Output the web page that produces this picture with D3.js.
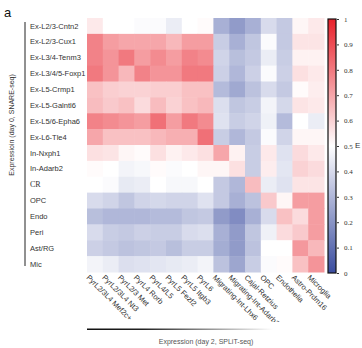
<!DOCTYPE html>
<meta charset="utf-8">
<style>
  body { margin: 0; background: #fff; }
  .row-label, .col-label, .axis-title { font-family: "Liberation Sans", Arial, sans-serif; }
  .serif { font-family: "Liberation Serif", "Times New Roman", serif; }
  .cbar .domain { display: none; }
  .cbar text { font-family: "Liberation Serif", serif; font-size: 7px; fill: #333; }
  .cbar line { stroke: #333; }
</style>
<body>
<script src="https://cdn.jsdelivr.net/npm/d3@7"></script>
<script>

// rows: SNARE-seq day 0 clusters
var rowLabels = ["Ex-L2/3-Cntn2", "Ex-L2/3-Cux1", "Ex-L3/4-Tenm3", "Ex-L3/4/5-Foxp1",
                 "Ex-L5-Crmp1", "Ex-L5-Galntl6", "Ex-L5/6-Epha6", "Ex-L6-Tle4",
                 "In-Nxph1", "In-Adarb2", "CR", "OPC", "Endo", "Peri", "Ast/RG", "Mic"];

// columns: SPLiT-seq day 2 clusters
var colLabels = ["PyrL2/3L4 Mef2c+", "PyrL2/3L4 Nt3", "PyrL2/3 Met", "PyrL4 Rorb", "PyrL4/L5",
                 "PyrL5 Fezf2", "PyrL5 Itgb3", "PyrL6", "Migrating-Int-Lhx6", "Migrating-Int-Adarb2",
                 "Cajal-Retzius", "OPC", "Endothelia", "Astro-Prdm16", "Microglia"];

// correlation values, one row per SNARE-seq cluster
var values = [
  [0.55,0.50,0.50,0.49,0.49,0.45,0.50,0.51,0.28,0.22,0.28,0.40,0.35,0.52,0.55],
  [0.78,0.72,0.70,0.70,0.70,0.66,0.72,0.72,0.36,0.28,0.34,0.49,0.35,0.56,0.56],
  [0.78,0.74,0.80,0.72,0.76,0.72,0.78,0.76,0.38,0.32,0.35,0.45,0.36,0.53,0.53],
  [0.80,0.74,0.66,0.78,0.74,0.74,0.80,0.80,0.37,0.30,0.37,0.49,0.37,0.57,0.55],
  [0.64,0.61,0.60,0.60,0.61,0.61,0.64,0.64,0.31,0.26,0.33,0.40,0.35,0.51,0.54],
  [0.65,0.62,0.64,0.58,0.65,0.60,0.64,0.66,0.41,0.34,0.36,0.47,0.39,0.56,0.55],
  [0.78,0.76,0.74,0.72,0.82,0.72,0.80,0.76,0.42,0.36,0.38,0.46,0.31,0.50,0.45],
  [0.70,0.64,0.64,0.64,0.66,0.68,0.68,0.82,0.36,0.30,0.35,0.49,0.38,0.52,0.52],
  [0.57,0.56,0.52,0.51,0.57,0.53,0.55,0.57,0.70,0.53,0.36,0.55,0.42,0.58,0.55],
  [0.51,0.50,0.47,0.48,0.51,0.49,0.50,0.52,0.52,0.57,0.36,0.54,0.43,0.60,0.58],
  [0.50,0.49,0.44,0.45,0.50,0.48,0.48,0.50,0.35,0.30,0.65,0.45,0.42,0.56,0.56],
  [0.40,0.38,0.34,0.38,0.39,0.38,0.38,0.42,0.35,0.28,0.33,0.62,0.52,0.72,0.72],
  [0.32,0.30,0.30,0.30,0.31,0.31,0.34,0.35,0.22,0.18,0.28,0.40,0.64,0.58,0.72],
  [0.40,0.36,0.35,0.37,0.36,0.36,0.40,0.41,0.28,0.22,0.34,0.46,0.58,0.62,0.72],
  [0.37,0.35,0.33,0.34,0.35,0.32,0.36,0.36,0.27,0.22,0.33,0.50,0.50,0.73,0.66],
  [0.47,0.45,0.41,0.42,0.43,0.44,0.45,0.47,0.33,0.25,0.36,0.49,0.51,0.64,0.74]
];

var cbarTicks = [0, 0.1, 0.2, 0.3, 0.4, 0.5, 0.6, 0.7, 0.8, 0.9, 1];

var width = 362, height = 348;
var hm = {x: 87, y: 18, w: 237, h: 254};

var svg = d3.select("body").append("svg")
    .attr("width", width).attr("height", height);

var x = d3.scaleBand().domain(d3.range(colLabels.length)).range([hm.x, hm.x + hm.w]);
var y = d3.scaleBand().domain(d3.range(rowLabels.length)).range([hm.y, hm.y + hm.h]);

var color = d3.scaleLinear()
    .domain([0, 0.5, 1])
    .range(["#3a4c9f", "#ffffff", "#e8202a"]);

// flatten into cells
var cells = [];
values.forEach(function(row, i) {
    row.forEach(function(v, j) { cells.push({r: i, c: j, v: v}); });
});

svg.append("g").selectAll("rect")
    .data(cells)
    .enter().append("rect")
    .attr("x", function(d) { return x(d.c); })
    .attr("y", function(d) { return y(d.r); })
    .attr("width", x.bandwidth() + 0.5)
    .attr("height", y.bandwidth() + 0.5)
    .attr("fill", function(d) { return color(d.v); });

// panel letter
svg.append("text")
    .attr("x", 4).attr("y", 17)
    .attr("font-family", "Liberation Sans, Arial, sans-serif")
    .attr("font-size", 13)
    .attr("fill", "#111")
    .text("a");

// row labels + bracket line
svg.append("g").selectAll("text")
    .data(rowLabels)
    .enter().append("text")
    .attr("class", function(d) { return d === "CR" ? "row-label serif" : "row-label"; })
    .attr("x", 30)
    .attr("y", function(d, i) { return y(i) + y.bandwidth() / 2; })
    .attr("dy", "0.35em")
    .attr("fill", "#333")
    .attr("font-size", function(d) { return d === "CR" ? 8 : 7.5; })
    .text(function(d) { return d; });

svg.append("line")
    .attr("x1", 25).attr("x2", 25)
    .attr("y1", 22).attr("y2", 266)
    .attr("stroke", "#222").attr("stroke-width", 1);

svg.append("text")
    .attr("class", "axis-title")
    .attr("transform", "translate(14,125) rotate(-90)")
    .attr("text-anchor", "middle")
    .attr("font-size", 7)
    .attr("fill", "#333")
    .text("Expressioin (day 0, SNARE-seq)");

// column labels, clipped at the bottom like the source
svg.append("clipPath").attr("id", "lblclip")
    .append("rect").attr("x", 0).attr("y", hm.y + hm.h).attr("width", width).attr("height", 50);

svg.append("g").attr("clip-path", "url(#lblclip)")
    .selectAll("text")
    .data(colLabels)
    .enter().append("text")
    .attr("class", "col-label")
    .attr("font-size", 7.5)
    .attr("fill", "#333")
    .attr("transform", function(d, i) {
        return "translate(" + (x(i) + x.bandwidth() / 2 - 9) + "," + (hm.y + hm.h + 6) + ") rotate(45)";
    })
    .text(function(d) { return d; });

// faded x axis bar and title
var grad = svg.append("defs").append("linearGradient").attr("id", "fade");
grad.append("stop").attr("offset", "0%").attr("stop-color", "#111");
grad.append("stop").attr("offset", "30%").attr("stop-color", "#222");
grad.append("stop").attr("offset", "100%").attr("stop-color", "#fff");

svg.append("rect")
    .attr("x", hm.x).attr("y", 328.5)
    .attr("width", 186).attr("height", 1.5)
    .attr("fill", "url(#fade)");

svg.append("text")
    .attr("class", "axis-title")
    .attr("x", 206).attr("y", 344)
    .attr("text-anchor", "middle")
    .attr("font-size", 7)
    .attr("fill", "#555")
    .text("Expression (day 2, SPLiT-seq)");

// colour bar
var cb = {x: 328, y: 19, w: 8, h: 254};
var cy = d3.scaleLinear().domain([0, 1]).range([cb.y + cb.h, cb.y]);

var cgrad = svg.select("defs").append("linearGradient")
    .attr("id", "cbgrad")
    .attr("x1", 0).attr("y1", 1).attr("x2", 0).attr("y2", 0);
cgrad.selectAll("stop")
    .data(cbarTicks)
    .enter().append("stop")
    .attr("offset", function(d) { return (d * 100) + "%"; })
    .attr("stop-color", function(d) { return color(d); });

svg.append("rect")
    .attr("x", cb.x).attr("y", cb.y)
    .attr("width", cb.w).attr("height", cb.h)
    .attr("fill", "url(#cbgrad)")
    .attr("stroke", "#111").attr("stroke-width", 1.2);

svg.append("g")
    .attr("class", "cbar")
    .attr("transform", "translate(" + (cb.x + cb.w + 1) + ",0)")
    .call(d3.axisRight(cy).tickValues(cbarTicks).tickSize(2).tickPadding(5)
        .tickFormat(function(d) { return d3.format("")(+d.toFixed(1)); }));

// colour bar title, only its first letter fits in the frame
svg.append("text")
    .attr("class", "axis-title")
    .attr("x", 355).attr("y", 148)
    .attr("font-size", 8)
    .attr("fill", "#333")
    .text("E");

</script>
</body>
